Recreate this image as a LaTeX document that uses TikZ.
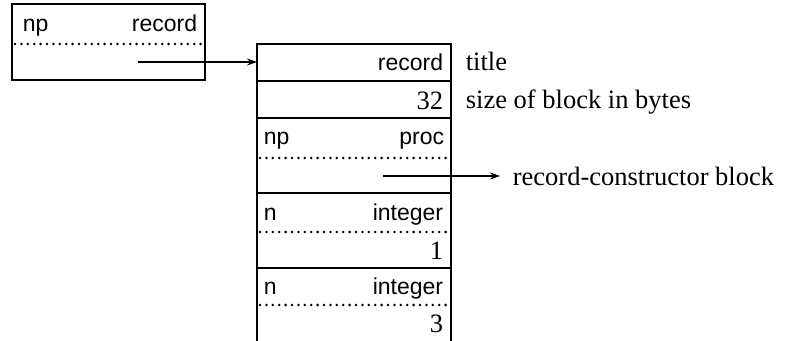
\documentclass[tikz,border=0pt]{standalone}
\usepackage{fontspec}
\setmainfont{Liberation Serif}
\setsansfont{Liberation Sans}
\usetikzlibrary{arrows.meta}
\tikzset{
  lab/.style={inner sep=0pt, font=\fontsize{13.25}{15}\selectfont},
  tag/.style={inner sep=0pt, font=\sffamily\fontsize{11.5}{13}\selectfont},
  ptr/.style={-{Stealth[length=5pt,width=3.5pt]}, line width=0.55pt},
  dots/.style={line width=1.4pt, dash pattern=on 0pt off 3.2pt, line cap=round},
}
\begin{document}
\begin{tikzpicture}[x=0.5pt,y=-0.5pt,line width=0.85pt]
  \useasboundingbox (0,0) rectangle (785,341);
  % pointeur
  \draw (12,4) rectangle (205,80);
  \draw[dots] (15,44)--(203,44);
  \node[tag, anchor=base west] (ptrnp) at (22,32) {np};
  \node[tag, anchor=base east] (ptrrec) at (198,32) {record};
  \coordinate (ptrsrc) at (138,62);
  % bloc du record
  \draw (257,341)--(257,44)--(451,44)--(451,341);
  \foreach \y in {81,118,193,268} \draw (257,\y)--(451,\y);
  \foreach \y in {158,232,305} \draw[dots] (260,\y)--(449,\y);
  \coordinate (blk) at (257,62);
  \node[tag, anchor=base east] (blkrec) at (444,71) {record};
  \node[lab, anchor=base east] (blksize) at (444,110) {32};
  \node[tag, anchor=base west] (procnp) at (263,145) {np};
  \node[tag, anchor=base east] (proctag) at (445,145) {proc};
  \coordinate (procsrc) at (383,176);
  \node[tag, anchor=base west] (fstn) at (263,221) {n};
  \node[tag, anchor=base east] (fsttag) at (444,221) {integer};
  \node[lab, anchor=base east] (fstval) at (444,259) {1};
  \node[tag, anchor=base west] (sndn) at (263,294) {n};
  \node[tag, anchor=base east] (sndtag) at (444,294) {integer};
  \node[lab, anchor=base east] (sndval) at (444,332) {3};
  % legendes
  \node[lab, anchor=base west] (title) at (465,71) {title};
  \node[lab, anchor=base west] (size) at (465,109) {size of block in bytes};
  \node[lab, anchor=west] (rcb) at (512,176) {record-constructor block};
  \draw[ptr] (ptrsrc)--(blk);
  \draw[ptr] (procsrc)--([xshift=-6pt]rcb.west);
\end{tikzpicture}
\end{document}
